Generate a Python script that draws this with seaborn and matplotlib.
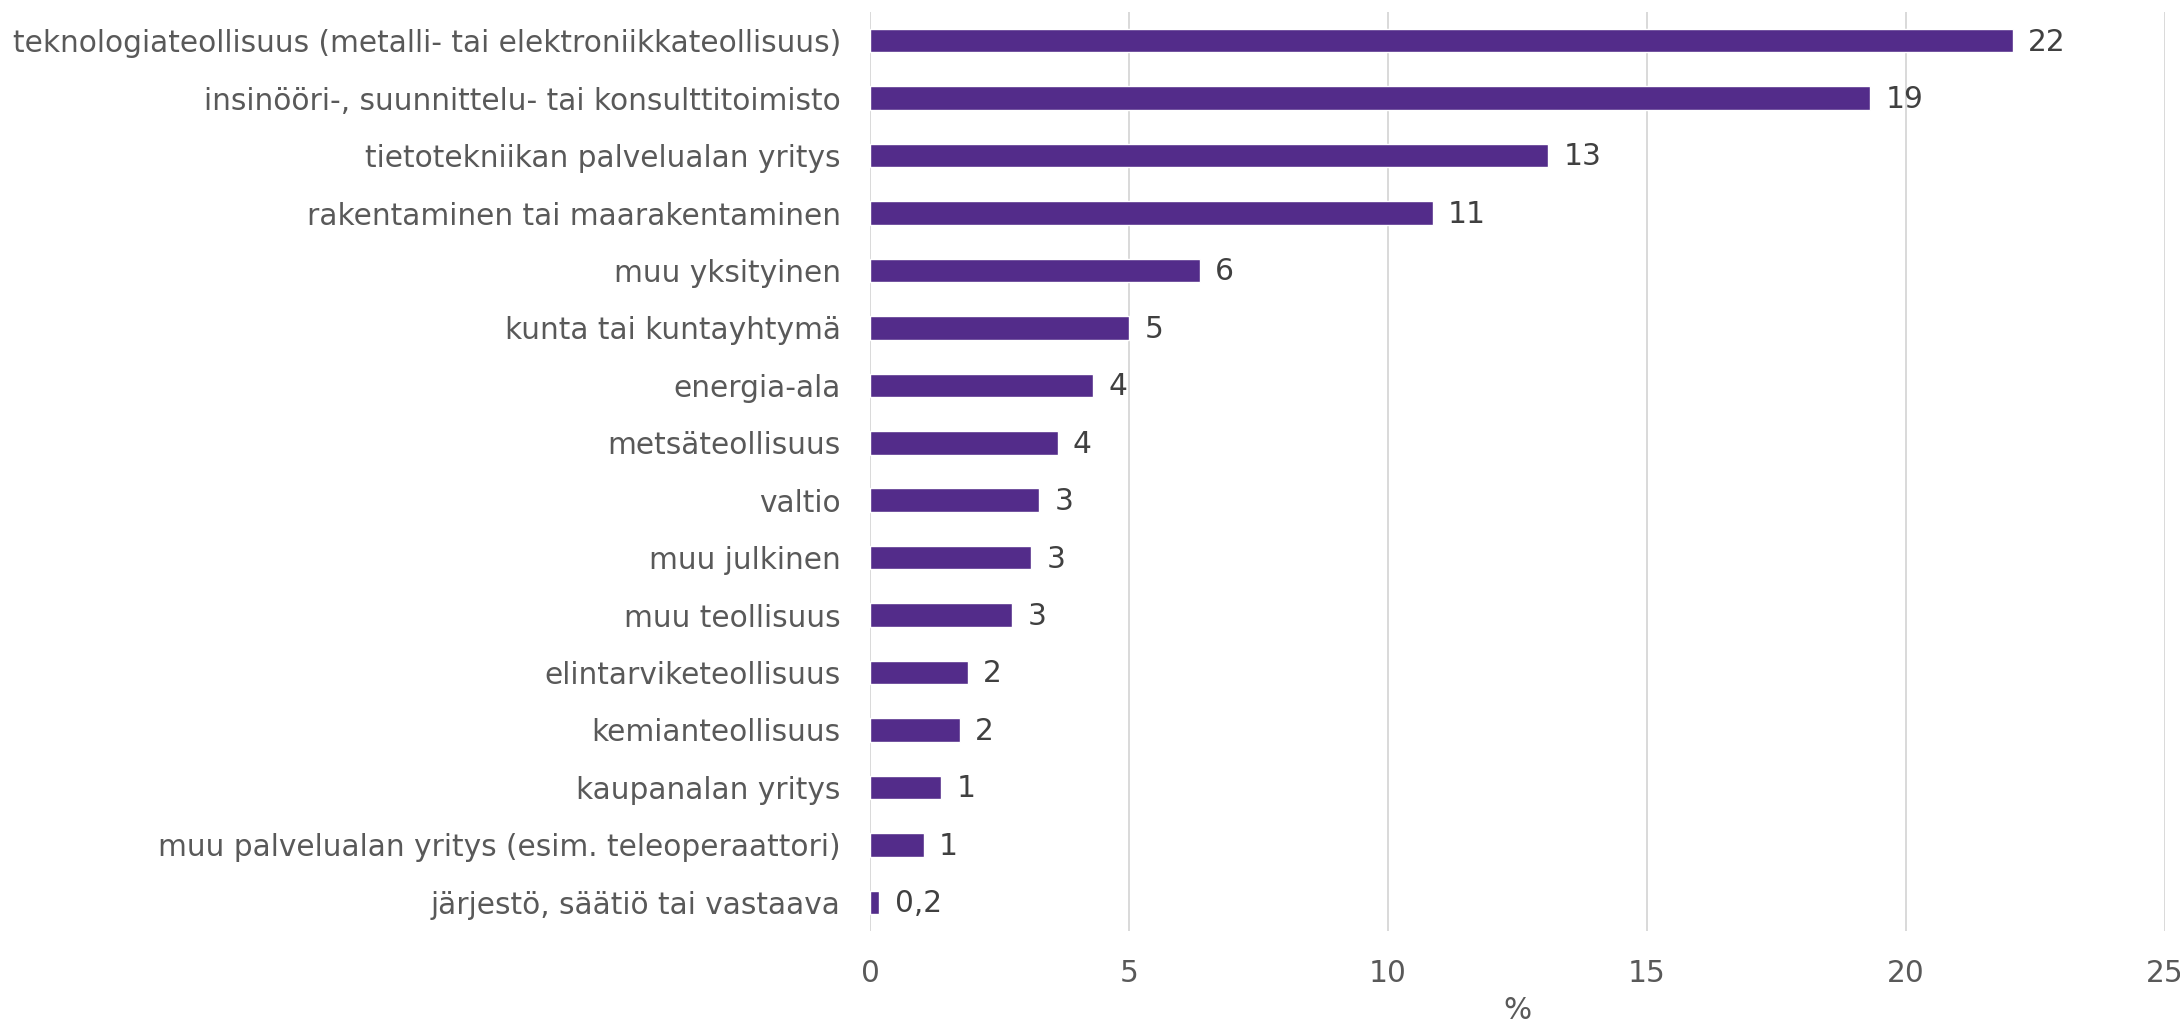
import numpy as np
import pandas as pd
import matplotlib
matplotlib.use("Agg")
import matplotlib.pyplot as plt
import seaborn as sns

# Toimialat (ylhäältä alas) ja osuudet prosentteina
toimialat = [
    "teknologiateollisuus (metalli- tai elektroniikkateollisuus)",
    "insinööri-, suunnittelu- tai konsulttitoimisto",
    "tietotekniikan palvelualan yritys",
    "rakentaminen tai maarakentaminen",
    "muu yksityinen",
    "kunta tai kuntayhtymä",
    "energia-ala",
    "metsäteollisuus",
    "valtio",
    "muu julkinen",
    "muu teollisuus",
    "elintarviketeollisuus",
    "kemianteollisuus",
    "kaupanalan yritys",
    "muu palvelualan yritys (esim. teleoperaattori)",
    "järjestö, säätiö tai vastaava",
]
osuudet = [22.06, 19.31, 13.09, 10.86, 6.37, 5.0, 4.31, 3.62,
           3.27, 3.11, 2.75, 1.89, 1.73, 1.38, 1.04, 0.18]
nimiot = ["22", "19", "13", "11", "6", "5", "4", "4",
          "3", "3", "3", "2", "2", "1", "1", "0,2"]
x_tikit = [0, 5, 10, 15, 20, 25]

VARI = "#532C8A"
FS = 21.3

df = pd.DataFrame({"toimiala": toimialat, "osuus": osuudet})

sns.set_style("white")
plt.rcParams["font.family"] = ["DejaVu Sans"]

fig = plt.figure(figsize=(21.8, 10.26), dpi=100)
ax = fig.add_axes([870 / 2180, 1 - 931 / 1026, (2165 - 870) / 2180, (931 - 12) / 1026])

sns.barplot(data=df, x="osuus", y="toimiala", color=VARI, saturation=1,
            width=0.41, orient="h", ax=ax, zorder=3)

for i, (v, t) in enumerate(zip(osuudet, nimiot)):
    ax.annotate(t, xy=(v, i), xytext=(11, -1), textcoords="offset points",
                ha="left", va="center", fontsize=FS, color="#404040")

ax.set_xlim(0, 25)
ax.set_ylim(15.5, -0.5)
ax.set_xticks(x_tikit)
ax.set_xticklabels([str(t) for t in x_tikit])
ax.xaxis.grid(True, color="#d9d9d9", linewidth=1.4, zorder=0)
ax.set_axisbelow(True)
for s in ["top", "right", "bottom", "left"]:
    ax.spines[s].set_visible(False)
ax.tick_params(axis="both", length=0, labelsize=FS, labelcolor="#595959")
ax.tick_params(axis="y", pad=21)
ax.tick_params(axis="x", pad=20)
ax.set_ylabel("")
ax.set_xlabel("%", fontsize=FS, color="#595959", labelpad=6)

fig.savefig("out.png", dpi=100)
